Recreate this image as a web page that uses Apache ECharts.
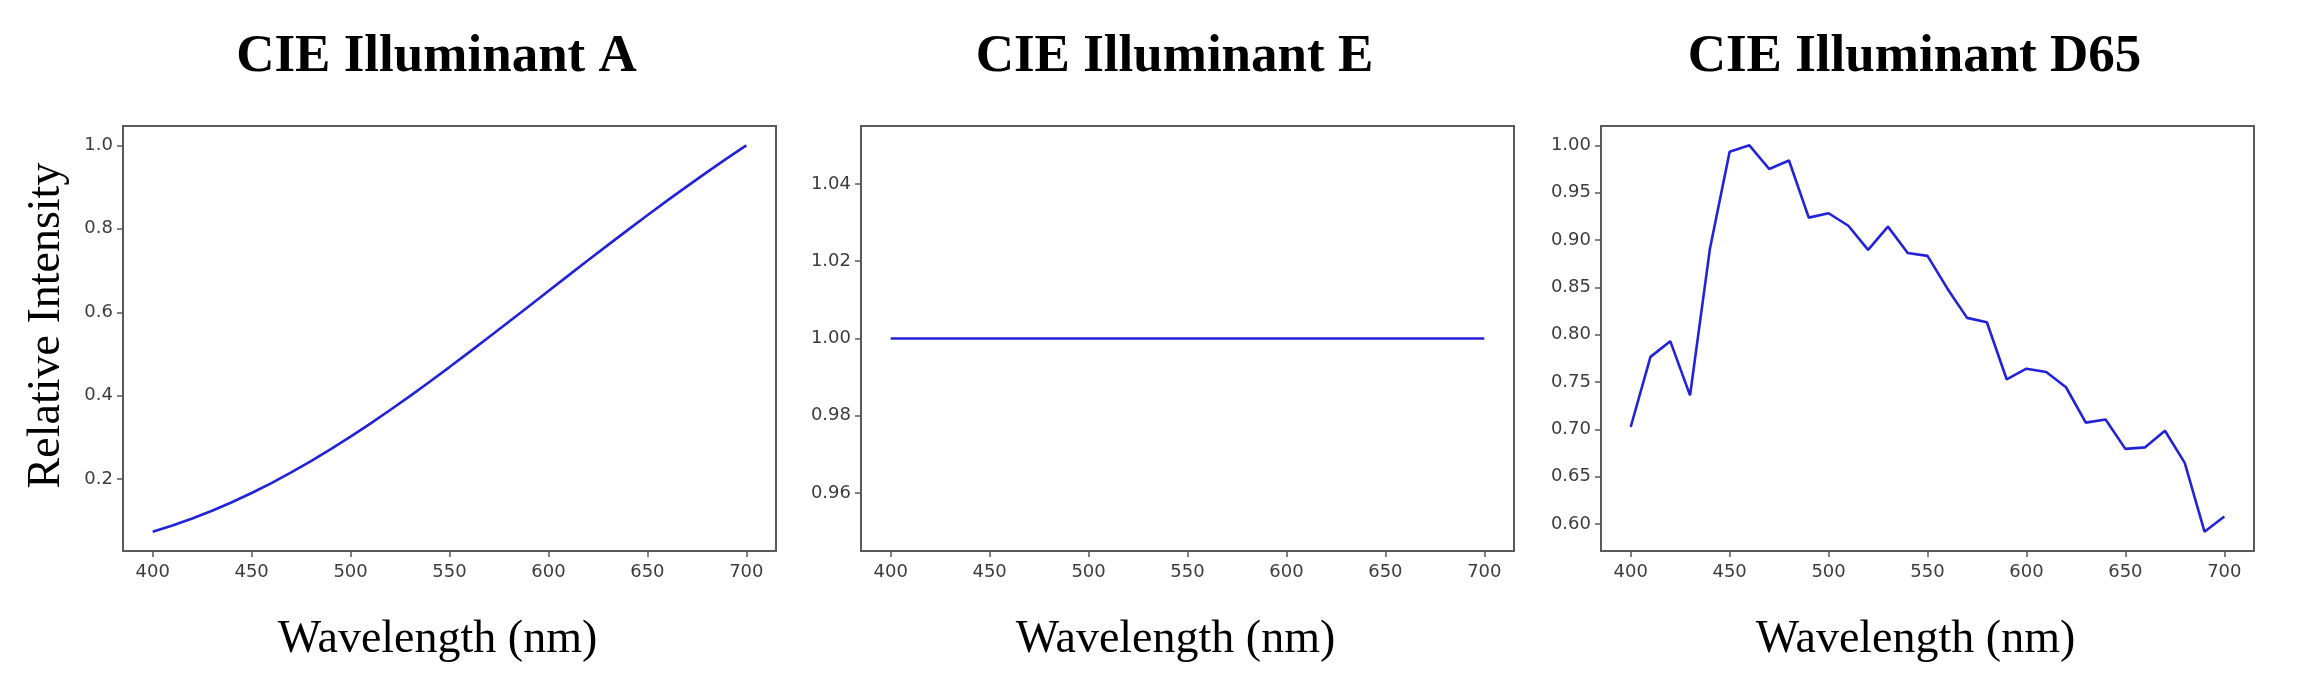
<!DOCTYPE html>
<html>
<head>
<meta charset="utf-8">
<script src="https://cdn.jsdelivr.net/npm/echarts@6/dist/echarts.min.js"></script>
<style>
html,body{margin:0;padding:0;background:#fff;}
#chart{width:2300px;height:683px;}
</style>
</head>
<body>
<div id="chart"></div>
<script>
// ---- data ----
const wavelengths = [400,410,420,430,440,450,460,470,480,490,500,510,520,530,540,550,560,570,580,590,600,610,620,630,640,650,660,670,680,690,700];
const illumA = [0.0742,0.0892,0.1059,0.1244,0.1448,0.1669,0.1907,0.2162,0.2433,0.2719,0.3019,0.3332,0.3657,0.3991,0.4335,0.4686,0.5044,0.5406,0.5772,0.6140,0.6509,0.6877,0.7244,0.7608,0.7968,0.8324,0.8674,0.9017,0.9353,0.9681,1.0000];
const illumE = [1,1,1,1,1,1,1,1,1,1,1,1,1,1,1,1,1,1,1,1,1,1,1,1,1,1,1,1,1,1,1];
const illumD65 = [0.7024,0.7765,0.7931,0.7358,0.8901,0.9932,1.0000,0.9750,0.9840,0.9236,0.9282,0.9150,0.8895,0.9141,0.8862,0.8832,0.8488,0.8177,0.8131,0.7528,0.7640,0.7605,0.7444,0.7070,0.7104,0.6793,0.6809,0.6984,0.6645,0.5918,0.6078];

const titles = ['CIE Illuminant A','CIE Illuminant E','CIE Illuminant D65'];
const xTicks = [400,450,500,550,600,650,700];
const yTicksA = [0.2,0.4,0.6,0.8,1.0];
const yTicksE = [0.96,0.98,1.00,1.02,1.04];
const yTicksD65 = [0.60,0.65,0.70,0.75,0.80,0.85,0.90,0.95,1.00];
const xLabel = 'Wavelength (nm)';
const yLabel = 'Relative Intensity';

// ---- layout ----
const gridLefts = [123, 861, 1601];
const gridW = 653, gridTop = 126, gridH = 425;
const yRanges = [[0.0279,1.0463],[0.945,1.055],[0.5714,1.0204]];
const yTickSets = [yTicksA, yTicksE, yTicksD65];
const yDecimals = [1,2,2];
const seriesData = [illumA, illumE, illumD65];

const lineColor = '#2222d8';
const frameColor = '#5a5a5a';
const tickFont = 'DejaVu Sans';
const serif = 'Liberation Serif, Times New Roman, serif';

const option = {
  animation: false,
  backgroundColor: '#ffffff',
  title: titles.map((t,i)=>({
    text: t,
    left: gridLefts[i] + gridW/2 - 18,
    top: 26,
    textAlign: 'center',
    textStyle: {fontFamily: serif, fontWeight: 'bold', fontSize: 53, color: '#000'}
  })),
  grid: gridLefts.map(l=>({
    left: l, top: gridTop, width: gridW, height: gridH,
    show: true, borderColor: frameColor, borderWidth: 2, backgroundColor: '#fff'
  })),
  xAxis: gridLefts.map((l,i)=>({
    type: 'value', gridIndex: i, min: 385, max: 715,
    name: xLabel, nameLocation: 'middle', nameGap: 66,
    nameTextStyle: {fontFamily: serif, fontSize: 46, color: '#000', padding: [0, 24, 0, 0]},
    axisLine: {show: false},
    splitLine: {show: false},
    axisTick: {show: true, customValues: xTicks, length: 6, lineStyle: {color: frameColor, width: 1.5}},
    axisLabel: {customValues: xTicks, fontFamily: tickFont, fontSize: 18, color: '#3c3c3c', margin: 12}
  })),
  yAxis: gridLefts.map((l,i)=>({
    type: 'value', gridIndex: i, min: yRanges[i][0], max: yRanges[i][1],
    name: i===0 ? yLabel : '', nameLocation: 'middle', nameGap: 53,
    nameTextStyle: {fontFamily: serif, fontSize: 46, color: '#000', padding: [0, 0, 0, 26]},
    axisLine: {show: false},
    splitLine: {show: false},
    axisTick: {show: true, customValues: yTickSets[i], length: 6, lineStyle: {color: frameColor, width: 1.5}},
    axisLabel: {customValues: yTickSets[i], fontFamily: tickFont, fontSize: 18, color: '#3c3c3c', margin: 10,
      formatter: v => Number(v).toFixed(yDecimals[i])}
  })),
  series: seriesData.map((d,i)=>({
    type: 'line', xAxisIndex: i, yAxisIndex: i,
    data: wavelengths.map((w,k)=>[w, d[k]]),
    showSymbol: false, symbol: 'none',
    lineStyle: {color: lineColor, width: 2.6},
    z: 3
  }))
};

const chart = echarts.init(document.getElementById('chart'), null, {renderer: 'canvas'});
chart.setOption(option);
</script>
</body>
</html>
